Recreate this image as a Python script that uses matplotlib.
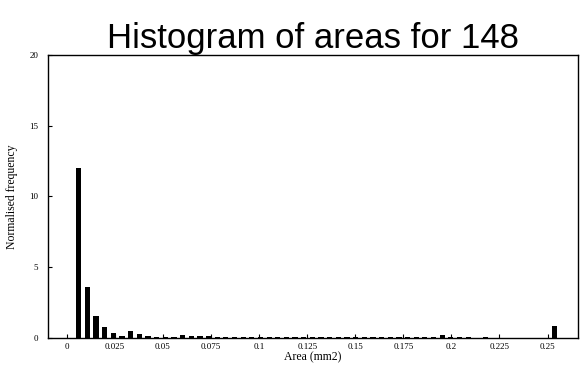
import numpy as np
from matplotlib import pyplot as plt

# bins of the area histogram (mm2)
bin_start = 0.0062
bin_width = 0.0045
heights = [12.0, 3.6, 1.55, 0.75, 0.35, 0.12, 0.45, 0.3, 0.1, 0.07,
           0.07, 0.08, 0.2, 0.1, 0.15, 0.1, 0.08, 0.07, 0.07, 0.06,
           0.06, 0.07, 0.05, 0.06, 0.05, 0.05, 0.06, 0.05, 0.04, 0.05,
           0.04, 0.04, 0.05, 0.04, 0.04, 0.04, 0.03, 0.04, 0.03, 0.03,
           0.03, 0.03, 0.2, 0.03, 0.03, 0.03, 0.02, 0.03, 0.02, 0.02,
           0.02, 0.02, 0.02, 0.02, 0.02, 0.85]
x_ticks = [0, 0.025, 0.05, 0.075, 0.1, 0.125, 0.15, 0.175, 0.2, 0.225, 0.25]
x_labels = ['0', '0.025', '0.05', '0.075', '0.1', '0.125', '0.15', '0.175', '0.2', '0.225', '0.25']
y_ticks = [0, 5, 10, 15, 20]

centres = bin_start + bin_width * np.arange(len(heights))

fig = plt.figure(figsize=(5.83, 3.8), dpi=100)
ax = fig.add_axes([0.082, 0.111, 0.909, 0.744])
ax.bar(centres, heights, width=0.0027, color='black')

ax.set_xlim(-0.0099, 0.2657)
ax.set_ylim(0, 20)
ax.set_xticks(x_ticks)
ax.set_xticklabels(x_labels, family='Liberation Serif', fontsize=6.5)
ax.set_yticks(y_ticks)
ax.set_yticklabels([str(v) for v in y_ticks], family='Liberation Serif', fontsize=6.5)
ax.tick_params(direction='in', length=3, width=0.8)
ax.tick_params(axis='x', pad=4)
ax.tick_params(axis='y', pad=7)
for s in ax.spines.values():
    s.set_linewidth(1.0)

ax.set_xlabel('Area (mm2)', family='Liberation Serif', fontsize=8.5, labelpad=0)
ax.set_ylabel('Normalised frequency', family='Liberation Serif', fontsize=8.5, labelpad=8)
ax.set_title('Histogram of areas for 148', family='Liberation Sans', fontsize=25, pad=4)

fig.savefig('out.png', dpi=100)
